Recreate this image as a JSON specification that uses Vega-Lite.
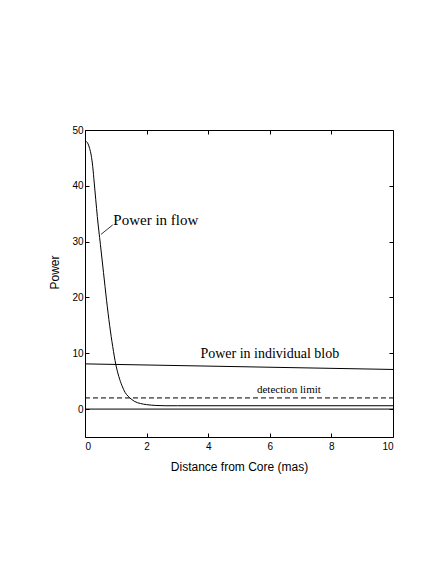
{
  "$schema": "https://vega.github.io/schema/vega-lite/v6.json",
  "width": 308,
  "height": 307,
  "autosize": {"type": "none"},
  "padding": {"left": 85, "top": 130, "right": 43, "bottom": 127},
  "background": "white",
  "config": {
    "view": {"stroke": "black", "strokeWidth": 1},
    "axis": {
      "domain": false,
      "grid": false,
      "tickColor": "black",
      "tickSize": -4,
      "labelFont": "Liberation Sans",
      "labelFontSize": 10,
      "labelColor": "black",
      "titleFont": "Liberation Sans",
      "titleFontSize": 12,
      "titleFontWeight": "normal",
      "titleColor": "black"
    }
  },
  "resolve": {"axis": {"x": "independent", "y": "independent"}},
  "layer": [
    {
      "data": {"values": [
        {"x": 0, "y": 48}, {"x": 0.05, "y": 47.9}, {"x": 0.1, "y": 47.5}, {"x": 0.15, "y": 46.7},
        {"x": 0.2, "y": 45.5}, {"x": 0.25, "y": 43.5}, {"x": 0.3, "y": 40.5}, {"x": 0.35, "y": 37.5},
        {"x": 0.4, "y": 34.5}, {"x": 0.5, "y": 29.5}, {"x": 0.6, "y": 24.5}, {"x": 0.7, "y": 19.5},
        {"x": 0.8, "y": 15}, {"x": 0.9, "y": 11.2}, {"x": 1.0, "y": 8}, {"x": 1.1, "y": 5.8},
        {"x": 1.2, "y": 4.2}, {"x": 1.3, "y": 3.0}, {"x": 1.4, "y": 2.3}, {"x": 1.5, "y": 1.8},
        {"x": 1.6, "y": 1.4}, {"x": 1.8, "y": 1.0}, {"x": 2.0, "y": 0.8}, {"x": 2.3, "y": 0.65},
        {"x": 2.6, "y": 0.6}, {"x": 3, "y": 0.6}, {"x": 10, "y": 0.6}
      ]},
      "mark": {"type": "line", "color": "black", "strokeWidth": 1, "interpolate": "monotone"},
      "encoding": {
        "x": {"field": "x", "type": "quantitative", "scale": {"domain": [0, 10], "nice": false},
              "axis": {"values": [0, 2, 4, 6, 8, 10], "title": "Distance from Core (mas)", "labelPadding": 8, "titlePadding": 10}},
        "y": {"field": "y", "type": "quantitative", "scale": {"domain": [-5, 50], "nice": false},
              "axis": {"values": [0, 10, 20, 30, 40, 50], "title": "Power", "labelPadding": 6, "titlePadding": 10, "titleY": 142, "titleAnchor": null}}
      }
    },
    {
      "data": {"values": [{"x": 0, "y": 8.1}, {"x": 10, "y": 7.1}]},
      "mark": {"type": "line", "color": "black", "strokeWidth": 1},
      "encoding": {
        "x": {"field": "x", "type": "quantitative", "axis": null},
        "y": {"field": "y", "type": "quantitative", "axis": null}
      }
    },
    {
      "data": {"values": [{"x": 0, "y": 2}, {"x": 10, "y": 2}]},
      "mark": {"type": "line", "color": "black", "strokeWidth": 1, "strokeDash": [5, 3]},
      "encoding": {
        "x": {"field": "x", "type": "quantitative", "axis": null},
        "y": {"field": "y", "type": "quantitative", "axis": null}
      }
    },
    {
      "data": {"values": [{"x": 0, "y": 0}, {"x": 10, "y": 0}]},
      "mark": {"type": "line", "color": "black", "strokeWidth": 1},
      "encoding": {
        "x": {"field": "x", "type": "quantitative",
              "axis": {"orient": "top", "values": [0, 2, 4, 6, 8, 10], "labels": false, "title": null}},
        "y": {"field": "y", "type": "quantitative",
              "axis": {"orient": "right", "values": [0, 10, 20, 30, 40, 50], "labels": false, "title": null}}
      }
    },
    {
      "data": {"values": [{"x": 0.52, "y": 31.3, "x2": 0.9, "y2": 33.0}]},
      "mark": {"type": "rule", "color": "black", "strokeWidth": 0.8},
      "encoding": {
        "x": {"field": "x", "type": "quantitative", "axis": null},
        "y": {"field": "y", "type": "quantitative", "axis": null},
        "x2": {"field": "x2"},
        "y2": {"field": "y2"}
      }
    },
    {
      "data": {"values": [{"x": 0.92, "y": 33.0, "label": "Power in flow"}]},
      "mark": {"type": "text", "font": "Liberation Serif", "fontSize": 15, "align": "left", "baseline": "alphabetic", "color": "black"},
      "encoding": {
        "x": {"field": "x", "type": "quantitative", "axis": null},
        "y": {"field": "y", "type": "quantitative", "axis": null},
        "text": {"field": "label"}
      }
    },
    {
      "data": {"values": [{"x": 6.0, "y": 9.2, "label": "Power in individual blob"}]},
      "mark": {"type": "text", "font": "Liberation Serif", "fontSize": 14, "align": "center", "baseline": "alphabetic", "color": "black"},
      "encoding": {
        "x": {"field": "x", "type": "quantitative", "axis": null},
        "y": {"field": "y", "type": "quantitative", "axis": null},
        "text": {"field": "label"}
      }
    },
    {
      "data": {"values": [{"x": 6.62, "y": 2.9, "label": "detection limit"}]},
      "mark": {"type": "text", "font": "Liberation Serif", "fontSize": 11, "align": "center", "baseline": "alphabetic", "color": "black"},
      "encoding": {
        "x": {"field": "x", "type": "quantitative", "axis": null},
        "y": {"field": "y", "type": "quantitative", "axis": null},
        "text": {"field": "label"}
      }
    }
  ]
}
